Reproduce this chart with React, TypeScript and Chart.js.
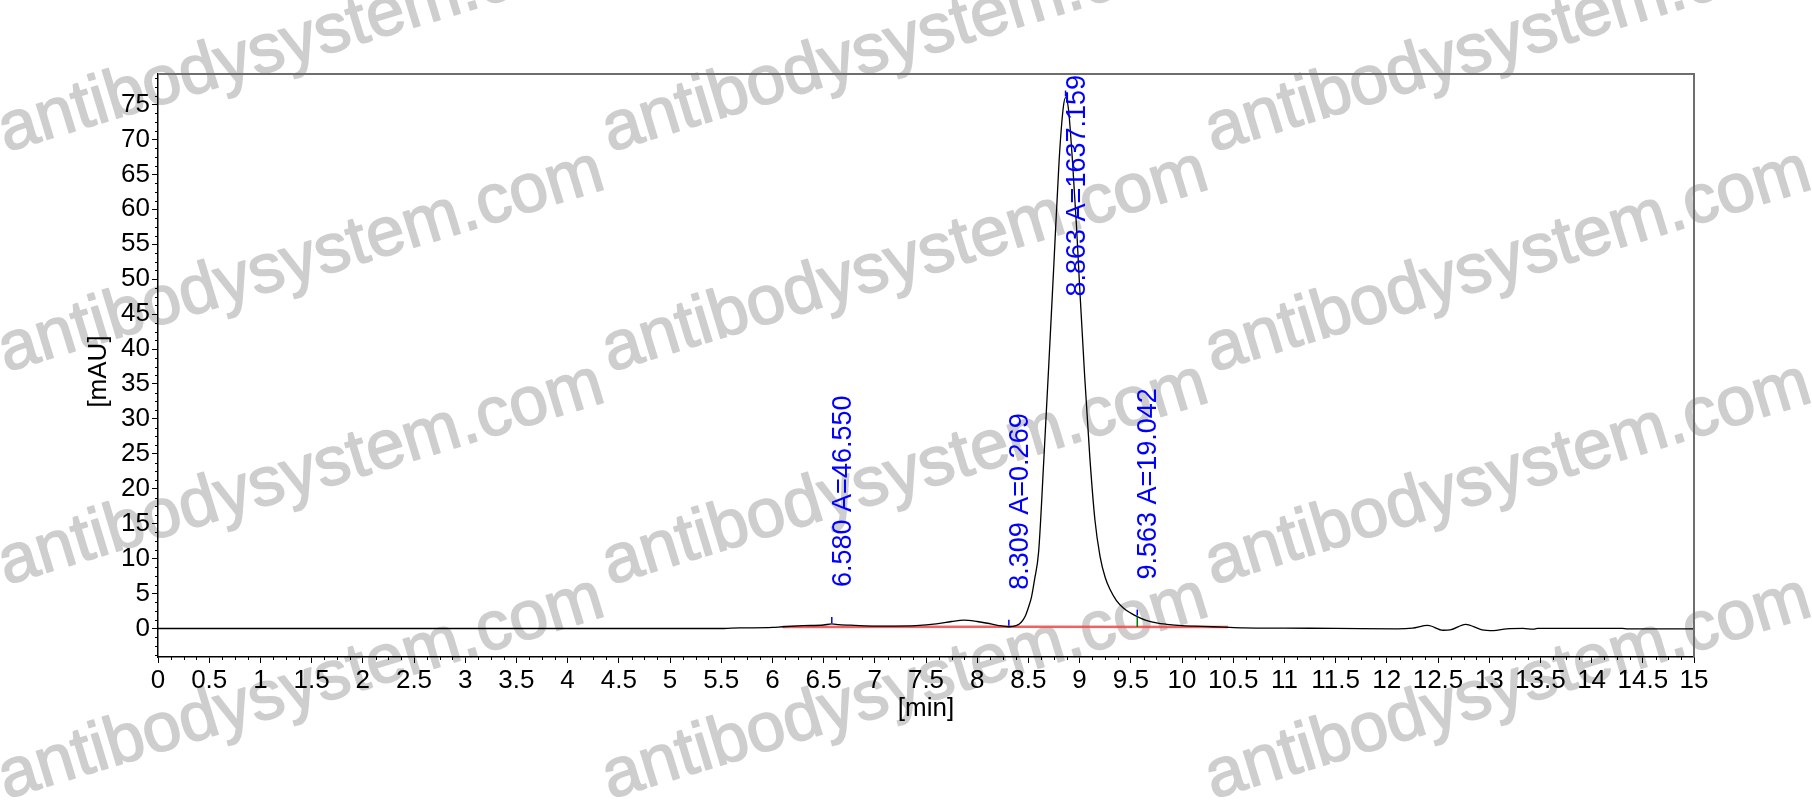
import React, { useEffect, useRef } from "react";
import { Chart, registerables } from "chart.js";

Chart.register(...registerables);

// ---- Data ----
const times = [
  0, 5.5, 5.6, 5.7, 6.0, 6.1, 6.3, 6.5, 6.58, 6.65, 6.8, 7.0, 7.2, 7.4, 7.6, 7.75, 7.87, 8.0, 8.1, 8.2,
  8.309, 8.38, 8.43, 8.47, 8.5, 8.53, 8.56, 8.6, 8.65, 8.7, 8.75, 8.8, 8.84, 8.863, 8.89, 8.93, 8.97, 9.0,
  9.05, 9.1, 9.15, 9.2, 9.25, 9.3, 9.36, 9.43, 9.5, 9.563, 9.65, 9.75, 9.85, 10.0, 10.2, 10.4, 10.6, 11.0,
  11.5, 12.1, 12.25, 12.4, 12.55, 12.62, 12.77, 12.93, 13.04, 13.17, 13.33, 13.43, 13.47, 14.0, 14.3, 14.35, 15.0,
];
const absorbance = [
  0, 0, 0.05, 0.08, 0.15, 0.25, 0.4, 0.5, 0.65, 0.55, 0.45, 0.35, 0.35, 0.4, 0.65, 1.0, 1.2, 1.0, 0.75, 0.45,
  0.25, 0.4, 0.9, 1.8, 3.0, 4.5, 7.0, 11, 24, 38, 52.5, 67, 74.5, 76, 74.5, 67, 57.5, 49,
  36, 24.5, 15.5, 10.3, 7.3, 5.5, 4.0, 2.9, 2.2, 1.7, 1.15, 0.8, 0.6, 0.4, 0.3, 0.2, 0.1, 0.05,
  0.02, -0.05, 0.05, 0.45, -0.25, -0.2, 0.6, -0.2, -0.3, -0.05, 0.02, -0.1, 0.02, 0.02, 0.02, -0.05, -0.05,
];
const baselineTimes = [6.1, 8.309, 10.45];
const baselineValues = [0.22, 0.25, 0.2];

const peakTimes = [6.58, 8.309, 8.863, 9.563];
const peakAreas = ["46.550", "0.269", "1637.159", "19.042"];
const dropLineTimes = [8.309, 9.563];

const xTickValues = [0, 0.5, 1, 1.5, 2, 2.5, 3, 3.5, 4, 4.5, 5, 5.5, 6, 6.5, 7, 7.5, 8, 8.5, 9, 9.5, 10, 10.5, 11, 11.5, 12, 12.5, 13, 13.5, 14, 14.5, 15];
const xTickLabels = ["0", "0.5", "1", "1.5", "2", "2.5", "3", "3.5", "4", "4.5", "5", "5.5", "6", "6.5", "7", "7.5", "8", "8.5", "9", "9.5", "10", "10.5", "11", "11.5", "12", "12.5", "13", "13.5", "14", "14.5", "15"];
const yTickValues = [0, 5, 10, 15, 20, 25, 30, 35, 40, 45, 50, 55, 60, 65, 70, 75];
const yTickLabels = ["0", "5", "10", "15", "20", "25", "30", "35", "40", "45", "50", "55", "60", "65", "70", "75"];
const xRange = [0, 15];
const yRange = [-4.08, 79.37];

const xTitle = "[min]";
const yTitle = "[mAU]";
const watermarkText = "antibodysystem.com";

// ---- Styling / layout constants ----
const W = 1812;
const H = 805;
const FONT = '"Liberation Sans", Arial, sans-serif';
const TICK_SIZE = 26;
const LABEL_SIZE = 27;
const WM_COLS = [6, 610, 1213];
const WM_ROWS = [152, 372, 585, 799];
const WM_ANGLE = (-17 * Math.PI) / 180;

function interp(xs: number[], ys: number[], x: number): number {
  if (x <= xs[0]) return ys[0];
  for (let i = 1; i < xs.length; i++) {
    if (x <= xs[i]) {
      const t = (x - xs[i - 1]) / (xs[i] - xs[i - 1]);
      return ys[i - 1] + t * (ys[i] - ys[i - 1]);
    }
  }
  return ys[ys.length - 1];
}

const decorPlugin = {
  id: "decor",
  beforeDraw(chart: any) {
    const ctx = chart.ctx as CanvasRenderingContext2D;
    ctx.save();
    ctx.fillStyle = "#ffffff";
    ctx.fillRect(0, 0, chart.width, chart.height);
    ctx.font = `69px ${FONT}`;
    ctx.fillStyle = "rgb(206,206,206)";
    ctx.strokeStyle = "rgb(206,206,206)";
    ctx.lineWidth = 1.6;
    ctx.lineJoin = "round";
    ctx.textBaseline = "alphabetic";
    ctx.textAlign = "left";
    for (const x of WM_COLS) {
      for (const y of WM_ROWS) {
        ctx.save();
        ctx.translate(x, y);
        ctx.rotate(WM_ANGLE);
        ctx.fillText(watermarkText, 0, 0);
        ctx.strokeText(watermarkText, 0, 0);
        ctx.restore();
      }
    }
    ctx.restore();
  },
  afterDraw(chart: any) {
    const ctx = chart.ctx as CanvasRenderingContext2D;
    const area = chart.chartArea;
    const xs = chart.scales.x;
    const ys = chart.scales.y;
    ctx.save();

    // frame top / right
    ctx.strokeStyle = "#6e6e6e";
    ctx.lineWidth = 2;
    ctx.beginPath();
    ctx.moveTo(area.left, area.top);
    ctx.lineTo(area.right, area.top);
    ctx.lineTo(area.right, area.bottom);
    ctx.stroke();

    // minor ticks
    ctx.strokeStyle = "#000";
    ctx.lineWidth = 1;
    ctx.beginPath();
    for (let k = 0; k <= 120; k++) {
      if (k % 4 === 0) continue;
      const px = Math.round(xs.getPixelForValue(k * 0.125)) + 0.5;
      ctx.moveTo(px, area.bottom);
      ctx.lineTo(px, area.bottom + 3);
    }
    for (let k = -3; k <= 63; k++) {
      if (k % 4 === 0) continue;
      const v = k * 1.25;
      if (v < yRange[0] || v > yRange[1]) continue;
      const py = Math.round(ys.getPixelForValue(v)) + 0.5;
      ctx.moveTo(area.left, py);
      ctx.lineTo(area.left - 3, py);
    }
    ctx.stroke();

    // axis titles
    ctx.fillStyle = "#000";
    ctx.font = `${TICK_SIZE}px ${FONT}`;
    ctx.textAlign = "center";
    ctx.textBaseline = "middle";
    ctx.fillText(xTitle, (area.left + area.right) / 2, 709);
    ctx.save();
    ctx.translate(99, (area.top + area.bottom) / 2 + 6);
    ctx.rotate(-Math.PI / 2);
    ctx.fillText(yTitle, 0, 0);
    ctx.restore();

    // peak markers and labels
    const meta = chart.getDatasetMeta(0);
    const baseY = (t: number) => ys.getPixelForValue(interp(baselineTimes, baselineValues, t));
    ctx.font = `${LABEL_SIZE}px ${FONT}`;
    peakTimes.forEach((t, i) => {
      const idx = times.indexOf(t);
      const pt = meta.data[idx];
      const px = pt.x;
      const py = pt.y;
      if (dropLineTimes.includes(t)) {
        ctx.strokeStyle = "#008000";
        ctx.lineWidth = 1.5;
        ctx.beginPath();
        ctx.moveTo(px, py);
        ctx.lineTo(px, baseY(t));
        ctx.stroke();
      }
      ctx.strokeStyle = "#0000ff";
      ctx.lineWidth = 1.5;
      ctx.beginPath();
      ctx.moveTo(px, py - 1);
      ctx.lineTo(px, py - 7);
      ctx.stroke();

      const label = `${t.toFixed(3)} A=${peakAreas[i]}`;
      const w = ctx.measureText(label).width;
      const bottom = Math.max(py - 37, area.top + w + 1);
      ctx.save();
      ctx.translate(px - 2, bottom);
      ctx.rotate(-Math.PI / 2);
      ctx.fillStyle = "#0000ff";
      ctx.textAlign = "left";
      ctx.textBaseline = "top";
      ctx.fillText(label, 0, 0);
      ctx.restore();
    });

    ctx.restore();
  },
};

export default function App() {
  const ref = useRef<HTMLCanvasElement>(null);

  useEffect(() => {
    const canvas = ref.current;
    if (!canvas) return;
    const chart = new Chart(canvas, {
      type: "line",
      data: {
        datasets: [
          {
            label: "Signal",
            data: times.map((t, i) => ({ x: t, y: absorbance[i] })),
            borderColor: "#000000",
            borderWidth: 1.3,
            pointRadius: 0,
            cubicInterpolationMode: "monotone",
            fill: false,
          },
          {
            label: "Baseline",
            data: baselineTimes.map((t, i) => ({ x: t, y: baselineValues[i] })),
            borderColor: "rgba(240,80,80,0.9)",
            borderWidth: 2.5,
            pointRadius: 0,
            fill: false,
          },
        ],
      },
      options: {
        responsive: false,
        animation: false,
        devicePixelRatio: 1,
        layout: { padding: { top: 74, right: 118, bottom: 0, left: 0 } },
        plugins: {
          legend: { display: false },
          tooltip: { enabled: false },
          title: { display: false },
        },
        scales: {
          x: {
            type: "linear",
            min: xRange[0],
            max: xRange[1],
            afterBuildTicks: (scale: any) => {
              scale.ticks = xTickValues.map((v) => ({ value: v }));
            },
            afterFit: (scale: any) => {
              scale.height = 148;
            },
            ticks: {
              autoSkip: false,
              maxRotation: 0,
              minRotation: 0,
              padding: 2,
              color: "#000",
              font: { family: FONT, size: TICK_SIZE },
              callback: (_v: any, i: number) => xTickLabels[i],
            },
            grid: { display: true, drawOnChartArea: false, drawTicks: true, tickLength: 6, color: "#000", lineWidth: 1 },
            border: { display: true, color: "#000", width: 1.5 },
          },
          y: {
            type: "linear",
            min: yRange[0],
            max: yRange[1],
            afterBuildTicks: (scale: any) => {
              scale.ticks = yTickValues.map((v) => ({ value: v }));
            },
            afterFit: (scale: any) => {
              scale.width = 158;
            },
            ticks: {
              autoSkip: false,
              padding: 2,
              color: "#000",
              font: { family: FONT, size: TICK_SIZE },
              callback: (_v: any, i: number) => yTickLabels[i],
            },
            grid: { display: true, drawOnChartArea: false, drawTicks: true, tickLength: 6, color: "#000", lineWidth: 1 },
            border: { display: true, color: "#000", width: 1.5 },
          },
        },
      },
      plugins: [decorPlugin],
    } as any);
    return () => chart.destroy();
  }, []);

  return (
    <div style={{ position: "fixed", left: 0, top: 0, width: W, height: H, background: "#fff" }}>
      <canvas ref={ref} width={W} height={H} style={{ width: W, height: H, display: "block" }} />
    </div>
  );
}
